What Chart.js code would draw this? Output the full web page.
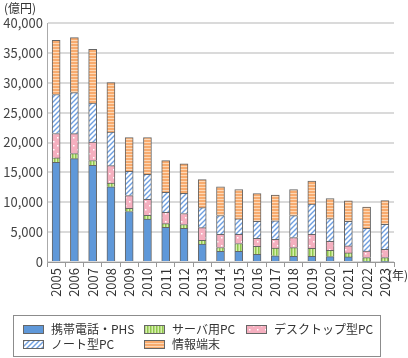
<!DOCTYPE html>
<html lang="ja">
<head>
<meta charset="utf-8">
<script src="https://cdn.jsdelivr.net/npm/chart.js@4.4.1/dist/chart.umd.min.js"></script>
<style>
  html, body { margin: 0; padding: 0; background: #fff; }
  #wrap { position: relative; width: 408px; height: 358px; }
</style>
</head>
<body>
<div id="wrap"><canvas id="chart"></canvas></div>
<script>
// Data (億円)
const years = ['2005','2006','2007','2008','2009','2010','2011','2012','2013','2014','2015','2016','2017','2018','2019','2020','2021','2022','2023'];
const phone    = [16700, 17300, 16200, 12600, 8450, 7200, 5800, 5650, 3000, 1800, 1800, 1300, 1050, 950, 950, 900, 850, 80, 80];
const server   = [720, 840, 780, 610, 550, 620, 620, 620, 620, 620, 1290, 1340, 1270, 1460, 1340, 1060, 670, 660, 660];
const desktop  = [4080, 3340, 3070, 2910, 2120, 2680, 1890, 1840, 2130, 2230, 1560, 1340, 1460, 1670, 2350, 1500, 1170, 1100, 1380];
const notebook = [6530, 6870, 6530, 5620, 4070, 4180, 3350, 3400, 3350, 3130, 2560, 2840, 3130, 3690, 5070, 3800, 4130, 3800, 4190];
const tablet   = [9090, 9200, 9030, 8270, 5650, 6150, 5300, 4910, 4680, 4790, 4920, 4640, 4290, 4350, 3850, 3350, 3400, 3570, 3970];

const FONT = '"Noto Sans CJK JP", "Noto Sans", sans-serif';

// small pattern helper
function makePattern(w, h, draw) {
    const c = document.createElement('canvas');
    c.width = w; c.height = h;
    const g = c.getContext('2d');
    draw(g, w, h);
    return g.createPattern(c, 'repeat');
}

const blueFill = '#5f98d9';
const greenFill = makePattern(3, 1, (g) => {
    g.fillStyle = '#d8efad'; g.fillRect(0, 0, 3, 1);
    g.fillStyle = '#8ec64c'; g.fillRect(0, 0, 1.5, 1);
});
const pinkFill = makePattern(8, 8, (g) => {
    g.fillStyle = '#f5afbf'; g.fillRect(0, 0, 8, 8);
    g.fillStyle = '#ffffff';
    g.fillRect(1, 1, 1.5, 1.5);
    g.fillRect(5, 5, 1.5, 1.5);
});
const hatchFill = makePattern(5, 5, (g, w, h) => {
    g.fillStyle = '#ffffff'; g.fillRect(0, 0, w, h);
    g.strokeStyle = '#6f9fe0'; g.lineWidth = 1.4;
    g.beginPath();
    g.moveTo(0, h); g.lineTo(w, 0);
    g.moveTo(-1, 1); g.lineTo(1, -1);
    g.moveTo(w - 1, h + 1); g.lineTo(w + 1, h - 1);
    g.stroke();
});
const orangeFill = makePattern(4, 3, (g) => {
    g.fillStyle = '#f8ab6e'; g.fillRect(0, 0, 4, 3);
    g.fillStyle = '#fdd8b6'; g.fillRect(0, 1, 4, 1);
});

const series = [
    { label: '携帯電話・PHS', data: phone, fill: blueFill },
    { label: 'サーバ用PC', data: server, fill: greenFill },
    { label: 'デスクトップ型PC', data: desktop, fill: pinkFill },
    { label: 'ノート型PC', data: notebook, fill: hatchFill },
    { label: '情報端末', data: tablet, fill: orangeFill }
];

// legend box + unit labels
const extrasPlugin = {
    id: 'extras',
    afterDraw(chart) {
        const ctx = chart.ctx;
        ctx.save();
        ctx.font = '12px ' + FONT;
        ctx.fillStyle = '#333';
        ctx.textBaseline = 'middle';
        ctx.textAlign = 'left';
        ctx.fillText('(億円)', 4, 8);
        ctx.fillText('(年)', 388, 275);

        // legend frame
        ctx.strokeStyle = '#8c8c8c';
        ctx.lineWidth = 1;
        ctx.strokeRect(13.5, 315.5, 367, 41);

        const slots = [[23, 325], [144, 325], [246, 325], [23, 340], [144, 340]];
        series.forEach((s, i) => {
            const [x, y] = slots[i];
            ctx.fillStyle = s.fill;
            ctx.fillRect(x, y, 20, 8);
            ctx.strokeStyle = '#666';
            ctx.strokeRect(x + 0.5, y + 0.5, 20, 8);
            ctx.fillStyle = '#333';
            ctx.fillText(s.label, x + 28, y + 4.5);
        });
        ctx.restore();
    }
};

new Chart(document.getElementById('chart'), {
    type: 'bar',
    data: {
        labels: years,
        datasets: series.map(s => ({
            label: s.label,
            data: s.data,
            backgroundColor: s.fill,
            borderColor: '#666',
            borderWidth: 1,
            barThickness: 8
        }))
    },
    options: {
        responsive: true,
        maintainAspectRatio: false,
        animation: false,
        layout: { padding: { left: 0, top: 23, right: 14, bottom: 0 } },
        plugins: {
            legend: { display: false },
            tooltip: { enabled: false }
        },
        scales: {
            x: {
                stacked: true,
                afterFit: (scale) => { scale.height = 96; },
                grid: {
                    offset: true,
                    drawOnChartArea: false,
                    drawTicks: true,
                    tickLength: 5,
                    color: '#999'
                },
                border: { color: '#999' },
                ticks: {
                    autoSkip: false,
                    minRotation: 90,
                    maxRotation: 90,
                    padding: 1,
                    color: '#333',
                    font: { family: FONT, size: 13 }
                }
            },
            y: {
                stacked: true,
                min: 0,
                max: 40000,
                afterFit: (scale) => { scale.width = 47; },
                grid: { color: '#dadada', lineWidth: 2, drawTicks: false },
                border: { color: '#aaa' },
                ticks: {
                    stepSize: 5000,
                    padding: 4,
                    color: '#444',
                    font: { family: FONT, size: 13 },
                    callback: (v) => v.toLocaleString('en-US')
                }
            }
        }
    },
    plugins: [extrasPlugin]
});
</script>
</body>
</html>
